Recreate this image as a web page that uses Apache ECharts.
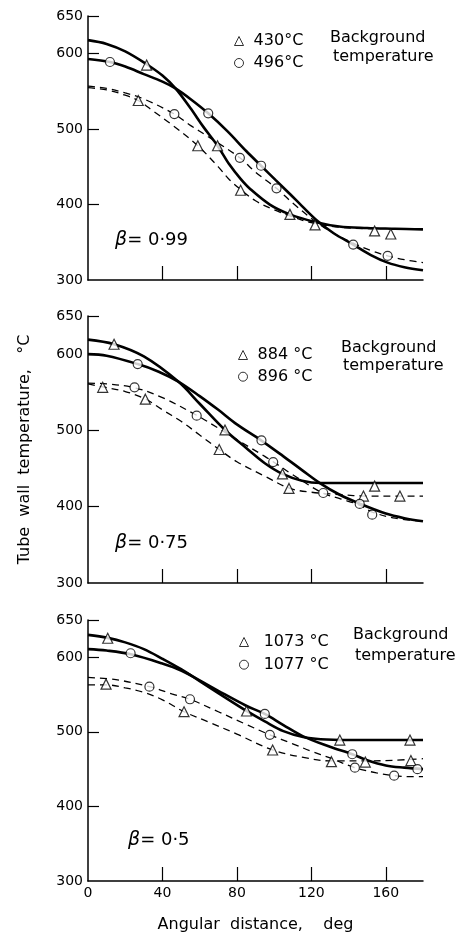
<!DOCTYPE html>
<html>
<head>
<meta charset="utf-8">
<title>Tube wall temperature</title>
<script src="https://cdn.jsdelivr.net/npm/echarts@6/dist/echarts.min.js"></script>
<style>
  html, body { margin: 0; padding: 0; background: #fff; }
  #chart { width: 473px; height: 937px; }
</style>
</head>
<body>
<div id="chart"></div>
<script type="text/javascript">
// axis values
var angleTicks = [40, 80, 120, 160];
var angleLabels = [0, 40, 80, 120, 160];
var tempTicks = [400, 500, 600, 650];
var tempLabels = [300, 400, 500, 600, 650];

// beta = 0.99  (430 / 496 °C background)
var b99SolidTri = [[0,618],[10,613],[20,603],[31.5,586],[40,571],[47,554],[55,528],[62,503],[69.6,478],[76,453],[82,434],[87,421],[97.7,400],[108.5,387],[122,377],[135,371],[150,369],[165,368],[180,367]];
var b99SolidCir = [[0,593],[11.8,589],[20,583],[30,573],[40,563],[47,554],[55,540],[64.6,521],[75,497],[85,471],[93,451.5],[101,432],[108.5,414],[115,398],[123,379],[132,362],[142.5,347],[152,333],[161,323],[170,317],[180,313]];
var b99DashTri = [[0,555],[10,552],[20,545],[27,538],[35,524],[45,506],[59,478],[70,450],[76,433],[82.5,419],[90,405],[100,393],[108.5,385],[120,376],[135,370],[150,368],[165,368],[180,368]];
var b99DashCir = [[0,557],[10,554],[20,548],[30,540],[46.4,520],[55,505],[64.6,490],[81.6,462],[90,443],[101.3,421.5],[110,402],[122,378],[132,362],[142.5,349],[152,339],[161,332],[170,327],[180,323]];
var b99Tri = [[27,538],[31.5,585],[59,478],[69.6,478],[82,419],[108.5,387],[122,373],[154,365],[162.7,361]];
var b99Cir = [[11.8,589],[46.4,520],[64.6,521],[81.6,462],[93,451.5],[101.3,421.5],[142.5,347],[161,332]];

// beta = 0.75  (884 / 896 °C background)
var b75SolidTri = [[0,619],[14,613],[30,597],[48.5,564],[60,535],[73.6,500.6],[85,477],[95,457],[104.5,443],[115,434],[125,431],[140,431],[160,431],[180,431]];
var b75SolidCir = [[0,600],[10,598],[26.7,587],[38,577],[48.5,564],[60,545],[70,527],[80,508],[93,487],[105,466],[115,448],[124.6,431],[135,416],[146,404],[160,391],[170,385],[180,381]];
var b75DashTri = [[0,561],[8,557],[20,551],[31,541],[40,527],[50,512],[60,494],[70.5,475],[80,459],[95,440],[108.5,424],[120,419],[135,416],[150,414],[165,414],[180,414]];
var b75DashCir = [[0,562],[10,561],[25,556],[40,543],[59,519],[70,503],[80,488],[95,466],[99.5,459],[110,442],[126,418],[136,410],[146,402],[152.7,393],[165,385],[180,381]];
var b75Tri = [[7.9,556.5],[14,613],[30.8,541],[70.5,475],[73.6,500.6],[104.5,443],[108,424],[148,414],[154,427],[167.6,414]];
var b75Cir = [[25,556.5],[26.7,587],[58.4,519.4],[93.2,487],[99.5,458.5],[126.4,418],[146,403.6],[152.7,389.5]];

// beta = 0.5  (1073 / 1077 °C background)
var b50SolidTri = [[0,630],[10.6,626],[20,620],[30,611],[40,598],[50,584],[60,568],[70,552],[85.2,528],[95,514],[105,501],[115.6,493],[125,490],[140,489],[160,489],[180,489]];
var b50SolidCir = [[0,611],[10,609],[23,604],[39.5,592],[50.3,582],[60,569],[70,555],[85,535],[95,524],[105,509],[115.6,494],[130,480],[142,470],[150,462],[160,455],[170,452],[180,450]];
var b50DashTri = [[0,563],[10,563],[20,559],[30,553],[40,543],[51.6,527],[65,513],[80,497],[99.2,475.7],[115,466],[130.8,461],[150,461],[165,462],[180,464]];
var b50DashCir = [[0,573],[15,570],[33,560.6],[45,551],[54.8,543.7],[70,527],[85,510],[97.7,496],[110,484],[120,474],[130,465],[143.4,452],[155,445],[164.5,441.3],[172,440],[180,440]];
var b50Tri = [[9.7,564],[10.6,625.5],[51.6,527],[85.2,528],[99.2,475.7],[130.8,460],[135.3,489],[149,459.5],[173,489],[173.5,461.5]];
var b50Cir = [[22.9,605.4],[33,560.6],[54.8,543.7],[95,524],[97.7,496],[142,470],[143.4,452],[164.5,441.3],[177,450]];

var FONT = 'DejaVu Sans';
var chart = echarts.init(document.getElementById('chart'));

var panels = [
  { beta: '0·99', tri: '430°C', cir: '496°C', st: b99SolidTri, sc: b99SolidCir, dt: b99DashTri, dc: b99DashCir, pt: b99Tri, pc: b99Cir },
  { beta: '0·75', tri: '884 °C', cir: '896 °C', st: b75SolidTri, sc: b75SolidCir, dt: b75DashTri, dc: b75DashCir, pt: b75Tri, pc: b75Cir },
  { beta: '0·5', tri: '1073 °C', cir: '1077 °C', st: b50SolidTri, sc: b50SolidCir, dt: b50DashTri, dc: b50DashCir, pt: b50Tri, pc: b50Cir }
];

var gridTop = [16, 316, 620];
var gridH = [264, 267, 261];

function curve(name, data, i, dashed) {
  return {
    name: name, type: 'line', xAxisIndex: i, yAxisIndex: i, data: data,
    smooth: 0.35, showSymbol: false, symbol: 'none', silent: true,
    lineStyle: { color: '#000', width: dashed ? 1.3 : 2.6, type: dashed ? [7, 5] : 'solid' },
    z: 2
  };
}
function marks(name, data, i, sym) {
  return {
    name: name, type: 'scatter', xAxisIndex: i, yAxisIndex: i, data: data,
    symbol: sym, symbolSize: sym === 'triangle' ? 10 : 9,
    itemStyle: { color: '#fff', borderColor: '#000', borderWidth: 1.2 },
    z: 5
  };
}

var grids = [], xAxes = [], yAxes = [], series = [], legends = [];
var legendPos = [[229, 27.5, 5, ' '], [233, 341.5, 4.7, ' '], [234, 628.5, 5.7, '  ']];

panels.forEach(function (p, i) {
  grids.push({ left: 88, width: 335, top: gridTop[i], height: gridH[i] });
  xAxes.push({
    gridIndex: i, type: 'value', min: 0, max: 180, interval: 40,
    axisLine: { lineStyle: { color: '#000', width: 1.5 } },
    axisTick: { inside: true, length: 14, customValues: angleTicks, lineStyle: { color: '#000', width: 1.2 } },
    axisLabel: { show: i === 2, customValues: angleLabels, color: '#000', fontFamily: FONT, fontSize: 14, margin: 5 },
    splitLine: { show: false },
    name: i === 2 ? 'Angular  distance,    deg' : '',
    nameLocation: 'middle', nameGap: 36,
    nameTextStyle: { color: '#000', fontFamily: FONT, fontSize: 16 }
  });
  yAxes.push({
    gridIndex: i, type: 'value', min: 300, max: 650, interval: 50,
    axisLine: { show: true, lineStyle: { color: '#000', width: 1.5 } },
    axisTick: { show: true, inside: true, length: 11, customValues: tempTicks, lineStyle: { color: '#000', width: 1.2 } },
    axisLabel: { customValues: tempLabels, color: '#000', fontFamily: FONT, fontSize: 14, margin: 5 },
    splitLine: { show: false },
    name: i === 1 ? 'Tube  wall  temperature,   °C' : '',
    nameLocation: 'middle', nameGap: 55, nameRotate: 90,
    nameTextStyle: { color: '#000', fontFamily: FONT, fontSize: 16 }
  });
  series.push(curve(p.tri + ' solid', p.st, i, false));
  series.push(curve(p.cir + ' solid', p.sc, i, false));
  series.push(curve(p.tri + ' dashed', p.dt, i, true));
  series.push(curve(p.cir + ' dashed', p.dc, i, true));
  series.push(marks(p.tri, p.pt, i, 'triangle'));
  series.push(marks(p.cir, p.pc, i, 'circle'));
  var lp = legendPos[i];
  legends.push({
    data: [p.tri, p.cir], orient: 'vertical', left: lp[0], top: lp[1],
    itemWidth: 9, itemHeight: 9, itemGap: lp[2], selectedMode: false,
    itemStyle: { color: '#fff', borderColor: '#000', borderWidth: 1 },
    formatter: lp[3] + '{name}',
    textStyle: { color: '#000', fontFamily: FONT, fontSize: 16, lineHeight: 17 }
  });
});

function label(x, y, text, size) {
  return {
    type: 'text', x: x, y: y, silent: true,
    style: { text: text, fill: '#000', fontFamily: FONT, fontSize: size || 16, verticalAlign: 'middle', align: 'left',
      rich: { b: { fontStyle: 'italic', fontFamily: FONT, fontSize: 19, fill: '#000' } } }
  };
}

var option = {
  backgroundColor: '#fff',
  animation: false,
  grid: grids,
  xAxis: xAxes,
  yAxis: yAxes,
  legend: legends,
  series: series,
  graphic: [
    label(330, 38, 'Background'), label(333, 57, 'temperature'),
    label(341, 348, 'Background'), label(343, 366, 'temperature'),
    label(353, 635, 'Background'), label(355, 656, 'temperature'),
    label(115, 240, '{b|β}= 0·99', 18),
    label(115, 543, '{b|β}= 0·75', 18),
    label(128, 840, '{b|β}= 0·5', 18)
  ]
};
chart.setOption(option);
</script>
</body>
</html>
